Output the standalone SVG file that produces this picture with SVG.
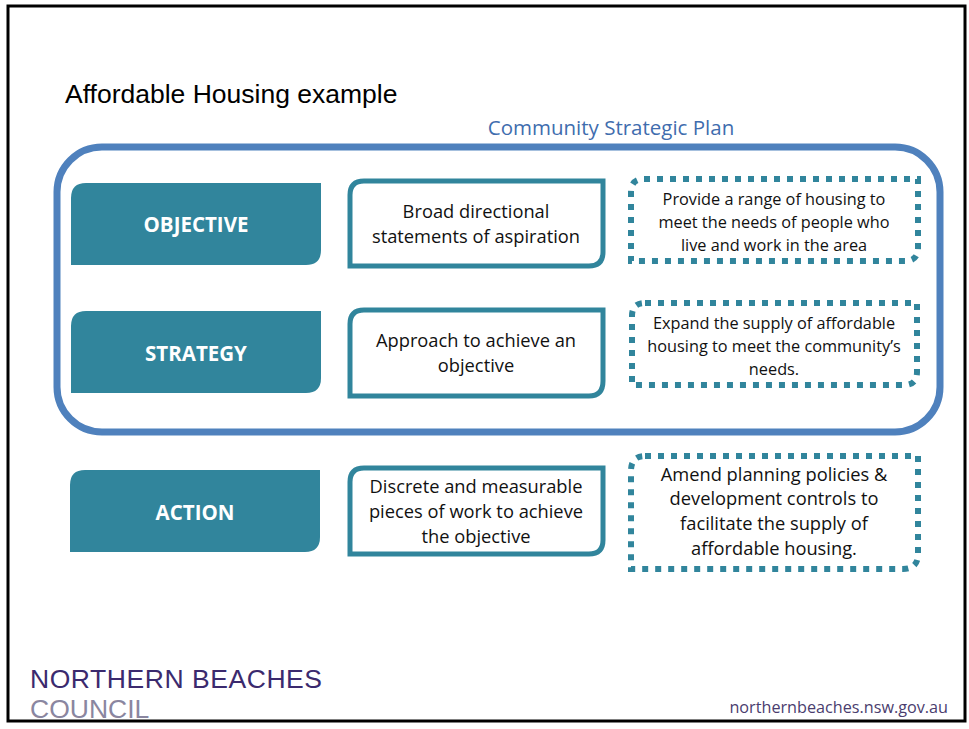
<svg xmlns="http://www.w3.org/2000/svg" width="969" height="729" viewBox="0 0 969 729">
<style>
.lbl{fill:#31859C}
.lt{font-family:"Open Sans","Liberation Sans",sans-serif;font-weight:bold;font-size:20.5px;fill:#fff;text-anchor:middle}
.mid{fill:#fff;stroke:#31859C;stroke-width:5}
.mt{font-family:"Open Sans","Liberation Sans",sans-serif;font-size:18.3px;fill:#111;text-anchor:middle}
.dot{fill:#fff;stroke:#31859C;stroke-width:6;stroke-dasharray:6 7}
.dt{font-family:"Open Sans","Liberation Sans",sans-serif;font-size:16.3px;fill:#111;text-anchor:middle}
</style>
<rect x="0" y="0" width="969" height="729" fill="#fff"/>
<rect x="8" y="6" width="957" height="715" fill="none" stroke="#000" stroke-width="3"/>
<text x="65" y="103" font-family="Liberation Sans,Arial,sans-serif" font-size="26.5" fill="#000">Affordable Housing example</text>
<g id="csp">
<text x="611" y="135" font-family="Open Sans,Liberation Sans,sans-serif" font-size="20.5" fill="#3F6DAE" text-anchor="middle">Community Strategic Plan</text>
<rect x="57" y="147" width="883" height="285" rx="45" fill="none" stroke="#4F81BD" stroke-width="7"/>
</g>
<g id="objective">
<path class="lbl" d="M86 183H321V250Q321 265 306 265H71V198Q71 183 86 183Z"/>
<text class="lt" x="196" y="232">OBJECTIVE</text>
</g>
<g id="strategy">
<path class="lbl" d="M86 311H321V378Q321 393 306 393H71V326Q71 311 86 311Z"/>
<text class="lt" x="196" y="361">STRATEGY</text>
</g>
<g id="action">
<path class="lbl" d="M85 470H320V537Q320 552 305 552H70V485Q70 470 85 470Z"/>
<text class="lt" x="195" y="520">ACTION</text>
</g>
<g id="objective-def">
<path class="mid" d="M364 181H603V252Q603 266 589 266H350V195Q350 181 364 181Z"/>
<text class="mt" x="476" y="218">Broad directional</text>
<text class="mt" x="476" y="243">statements of aspiration</text>
</g>
<g id="strategy-def">
<path class="mid" d="M364 310H603V381Q603 396 589 396H350V324Q350 310 364 310Z"/>
<text class="mt" x="476" y="347">Approach to achieve an</text>
<text class="mt" x="476" y="372">objective</text>
</g>
<g id="action-def">
<path class="mid" d="M364 468H603V540Q603 554 589 554H350V482Q350 468 364 468Z"/>
<text class="mt" x="476" y="493">Discrete and measurable</text>
<text class="mt" x="476" y="518">pieces of work to achieve</text>
<text class="mt" x="476" y="543">the objective</text>
</g>
<g id="objective-ex">
<path class="dot" d="M644 179H918V248Q918 261 905 261H631V192Q631 179 644 179Z"/>
<text class="dt" x="774" y="205">Provide a range of housing to</text>
<text class="dt" x="774" y="228">meet the needs of people who</text>
<text class="dt" x="774" y="251">live and work in the area</text>
</g>
<g id="strategy-ex">
<path class="dot" d="M645 303H917V372Q917 385 904 385H632V316Q632 303 645 303Z"/>
<text class="dt" x="774" y="329">Expand the supply of affordable</text>
<text class="dt" x="774" y="352">housing to meet the community’s</text>
<text class="dt" x="774" y="375">needs.</text>
</g>
<g id="action-ex">
<path class="dot" d="M645 456H918V554Q918 569 903 569H631V471Q631 456 645 456Z"/>
<text class="mt" x="774" y="481">Amend planning policies &amp;</text>
<text class="mt" x="774" y="505">development controls to</text>
<text class="mt" x="774" y="530">facilitate the supply of</text>
<text class="mt" x="774" y="555">affordable housing.</text>
</g>
<g id="connectors"></g>
<text x="30" y="688" font-family="Liberation Sans,Arial,sans-serif" font-size="26.5" fill="#3B2A6E" textLength="292" lengthAdjust="spacing">NORTHERN BEACHES</text>
<text x="30" y="718" font-family="Liberation Sans,Arial,sans-serif" font-size="26.5" fill="#8A86A0">COUNCIL</text>
<text x="948" y="713" font-family="Open Sans,Liberation Sans,sans-serif" font-size="16.2" fill="#4A3D6E" text-anchor="end">northernbeaches.nsw.gov.au</text>
</svg>
